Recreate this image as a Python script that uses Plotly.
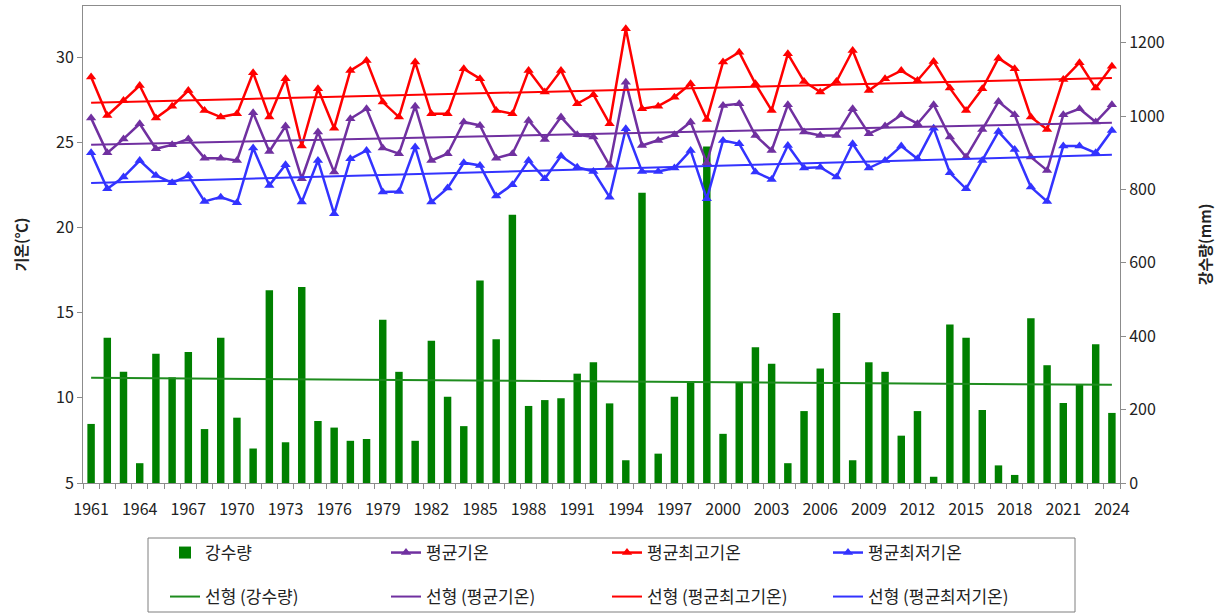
import numpy as np
import plotly.graph_objects as go

years = list(range(1961, 2025))

precip = [161, 396, 303, 54, 352, 288, 357, 147, 396, 178,
          94, 525, 111, 534, 169, 151, 115, 120, 445, 303,
          115, 388, 235, 155, 552, 392, 731, 210, 226, 231,
          298, 329, 217, 62, 791, 80, 235, 278, 917, 134,
          274, 370, 325, 54, 196, 312, 463, 62, 329, 303,
          129, 196, 17, 432, 396, 199, 48, 22, 449, 321,
          218, 268, 378, 191]

t_avg = [26.42, 24.38, 25.20, 26.09, 24.62, 24.85, 25.20, 24.07, 24.07, 23.93,
         26.73, 24.46, 25.95, 22.86, 25.60, 23.25, 26.38, 26.97, 24.66, 24.33,
         27.12, 23.93, 24.33, 26.19, 25.99, 24.07, 24.33, 26.28, 25.16, 26.48,
         25.44, 25.31, 23.64, 28.53, 24.81, 25.11, 25.44, 26.19, 23.80, 27.16,
         27.26, 25.40, 24.52, 27.20, 25.60, 25.40, 25.40, 26.97, 25.50, 25.95,
         26.61, 26.09, 27.20, 25.31, 24.13, 25.75, 27.39, 26.61, 24.13, 23.35,
         26.61, 26.97, 26.19, 27.20]

t_max = [28.83, 26.57, 27.45, 28.33, 26.42, 27.12, 28.04, 26.87, 26.48, 26.67,
         29.08, 26.48, 28.73, 24.78, 28.14, 25.83, 29.21, 29.80, 27.36, 26.48,
         29.71, 26.67, 26.67, 29.31, 28.73, 26.87, 26.67, 29.21, 27.95, 29.21,
         27.26, 27.79, 26.09, 31.66, 26.97, 27.12, 27.65, 28.43, 26.34, 29.71,
         30.29, 28.43, 26.87, 30.19, 28.57, 27.95, 28.57, 30.39, 28.04, 28.73,
         29.21, 28.63, 29.74, 28.18, 26.87, 28.14, 29.94, 29.31, 26.48, 25.75,
         28.69, 29.67, 28.18, 29.47]

t_min = [24.38, 22.27, 22.96, 23.93, 23.05, 22.62, 23.05, 21.53, 21.78, 21.45,
         24.66, 22.47, 23.68, 21.49, 23.93, 20.80, 24.03, 24.52, 22.08, 22.11,
         24.72, 21.49, 22.31, 23.80, 23.64, 21.84, 22.51, 23.93, 22.86, 24.19,
         23.54, 23.29, 21.78, 25.79, 23.29, 23.29, 23.49, 24.52, 21.68, 25.11,
         24.91, 23.25, 22.82, 24.81, 23.49, 23.54, 22.96, 24.91, 23.49, 23.93,
         24.78, 24.03, 25.83, 23.21, 22.27, 23.93, 25.63, 24.58, 22.37, 21.53,
         24.78, 24.78, 24.38, 25.69]

x_tick_years = years[::3]
left_ticks = [5, 10, 15, 20, 25, 30]
right_ticks = [0, 200, 400, 600, 800, 1000, 1200]

C_BAR = "#008000"
C_BAR_TREND = "#1E8C1E"
C_AVG = "#7030A0"
C_MAX = "#FF0000"
C_MIN = "#3333FF"
FONT = "Noto Sans CJK KR"


def trend(vals):
    k, b = np.polyfit(years, vals, 1)
    return [k * y + b for y in years]


fig = go.Figure()

# precipitation bars on primary (right-side) axis so lines draw above them
fig.add_trace(go.Bar(x=years, y=precip, name="강수량", marker_color=C_BAR,
                     marker_line_width=0, yaxis="y", legend="legend"))

for name, vals, col in [("평균기온", t_avg, C_AVG),
                        ("평균최고기온", t_max, C_MAX),
                        ("평균최저기온", t_min, C_MIN)]:
    fig.add_trace(go.Scatter(x=years, y=vals, name=name, mode="lines+markers",
                             line=dict(color=col, width=2.5),
                             marker=dict(symbol="triangle-up", size=9, color=col),
                             yaxis="y2", legend="legend"))

fig.add_trace(go.Scatter(x=years, y=trend(precip), name="선형 (강수량)", mode="lines",
                         line=dict(color=C_BAR_TREND, width=2), yaxis="y", legend="legend2"))
for name, vals, col in [("선형 (평균기온)", t_avg, C_AVG),
                        ("선형 (평균최고기온)", t_max, C_MAX),
                        ("선형 (평균최저기온)", t_min, C_MIN)]:
    fig.add_trace(go.Scatter(x=years, y=trend(vals), name=name, mode="lines",
                             line=dict(color=col, width=2), yaxis="y2", legend="legend2"))

axis_col = "#8C8C8C"
W, H = 1222, 614
L, R, T, B = 83, 102, 6, 131
pw, ph = W - L - R, H - T - B


def px_x(px):
    return (px - L) / pw


def px_y(py):
    return (H - B - py) / ph


legend_common = dict(orientation="h", xanchor="left", yanchor="middle",
                     entrywidth=176, entrywidthmode="pixels",
                     font=dict(size=17, family=FONT), bgcolor="rgba(0,0,0,0)",
                     borderwidth=0)

fig.update_layout(
    width=W, height=H,
    margin=dict(l=L, r=R, t=T, b=B, autoexpand=False),
    paper_bgcolor="white", plot_bgcolor="white",
    font=dict(family=FONT, size=16, color="#222222"),
    bargap=0.54,
    showlegend=True,
    xaxis=dict(range=[1960.5, 2024.5], tickvals=x_tick_years, ticks="",
               showline=True, linecolor=axis_col, linewidth=1, mirror=True,
               showgrid=False, zeroline=False, automargin=False,
               tickfont=dict(size=16, family=FONT), ticklabelstandoff=12,
               minor=dict(tickvals=[y + 0.5 for y in range(1960, 2025)],
                          ticks="outside", ticklen=5, tickcolor=axis_col)),
    yaxis=dict(side="right", range=[0, 1300], tickvals=right_ticks,
               ticks="outside", ticklen=5, tickcolor=axis_col,
               showline=True, linecolor=axis_col, linewidth=1,
               showgrid=False, zeroline=False, automargin=False,
               tickfont=dict(size=16, family=FONT),
               title=dict(text="<b>강수량(mm)</b>", font=dict(size=15, family=FONT),
                          standoff=36)),
    yaxis2=dict(side="left", overlaying="y", range=[5, 33], tickvals=left_ticks,
                ticks="outside", ticklen=5, tickcolor=axis_col,
                showline=True, linecolor=axis_col, linewidth=1,
                showgrid=False, zeroline=False, automargin=False,
                tickfont=dict(size=16, family=FONT),
                title=dict(text="<b>기온(℃)</b>", font=dict(size=15, family=FONT),
                           standoff=24)),
    legend=dict(x=px_x(165), y=px_y(553), **legend_common),
    legend2=dict(x=px_x(165), y=px_y(597), **legend_common),
    shapes=[dict(type="rect", xref="paper", yref="paper",
                 x0=px_x(148), x1=px_x(1075), y0=px_y(612), y1=px_y(538),
                 line=dict(color="#7F7F7F", width=1), fillcolor="rgba(0,0,0,0)")],
)

fig.write_html("out.html", config={"displayModeBar": False},
               post_script="document.body.style.margin='0';")
